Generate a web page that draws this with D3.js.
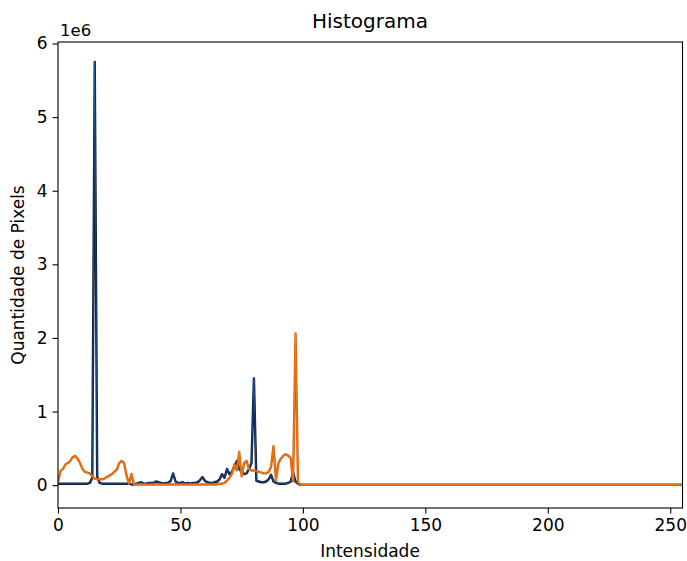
<!DOCTYPE html>
<html>
<head>
<meta charset="utf-8">
<script src="https://cdn.jsdelivr.net/npm/d3@7"></script>
<style>
  html, body { margin: 0; padding: 0; background: #fff; }
  svg { display: block; font-family: "DejaVu Sans", sans-serif; }
</style>
</head>
<body>
<svg id="chart" width="687" height="561"></svg>
<script>
// Intensities 0..100 read one by one, then the flat tail end at 255
const intensities = d3.range(0, 101).concat([255]);

// Series values in millions of pixels
const seriesNavy = [
  0.02, 0.02, 0.02, 0.02, 0.02, 0.02, 0.02, 0.02, 0.02, 0.02,
  0.02, 0.02, 0.02, 0.03, 0.10, 5.75, 0.12, 0.03, 0.02, 0.02,
  0.02, 0.02, 0.02, 0.02, 0.02, 0.02, 0.02, 0.02, 0.02, 0.02,
  0.01, 0.01, 0.02, 0.03, 0.04, 0.02, 0.02, 0.03, 0.03, 0.03,
  0.05, 0.04, 0.03, 0.02, 0.03, 0.03, 0.06, 0.16, 0.05, 0.03,
  0.03, 0.04, 0.02, 0.03, 0.02, 0.03, 0.03, 0.04, 0.07, 0.11,
  0.06, 0.04, 0.03, 0.03, 0.04, 0.05, 0.08, 0.15, 0.10, 0.22,
  0.15, 0.18, 0.25, 0.33, 0.22, 0.18, 0.15, 0.16, 0.22, 0.30,
  1.45, 0.06, 0.05, 0.04, 0.04, 0.05, 0.08, 0.14, 0.05, 0.03,
  0.02, 0.02, 0.02, 0.02, 0.03, 0.05, 0.17, 0.05, 0.02, 0.005,
  0.004, 0.004
];

const seriesOrange = [
  0.04, 0.19, 0.22, 0.28, 0.30, 0.33, 0.38, 0.40, 0.36, 0.30,
  0.22, 0.18, 0.17, 0.16, 0.12, 0.09, 0.08, 0.08, 0.08, 0.09,
  0.11, 0.13, 0.15, 0.18, 0.21, 0.30, 0.33, 0.30, 0.13, 0.02,
  0.15, 0.01, 0.01, 0.01, 0.01, 0.01, 0.01, 0.01, 0.01, 0.01,
  0.01, 0.01, 0.01, 0.01, 0.01, 0.01, 0.01, 0.01, 0.01, 0.01,
  0.01, 0.01, 0.01, 0.01, 0.01, 0.01, 0.01, 0.01, 0.01, 0.01,
  0.01, 0.01, 0.01, 0.01, 0.01, 0.01, 0.02, 0.02, 0.03, 0.06,
  0.10, 0.15, 0.28, 0.20, 0.45, 0.12, 0.30, 0.33, 0.22, 0.20,
  0.20, 0.19, 0.18, 0.17, 0.16, 0.16, 0.18, 0.25, 0.53, 0.06,
  0.30, 0.36, 0.40, 0.42, 0.40, 0.37, 0.05, 2.06, 0.04, 0.005,
  0.005, 0.005
];

const xTicks = [0, 50, 100, 150, 200, 250];
const yTicks = [0, 1, 2, 3, 4, 5, 6];
const title = "Histograma";
const xLabel = "Intensidade";
const yLabel = "Quantidade de Pixels";
const yExponent = "1e6";

const svg = d3.select("#chart");
const mLeft = 58, mRight = 682.5, mTop = 42, mBottom = 508;

const x = d3.scaleLinear().domain([0, 255]).range([mLeft, mRight]);
const y = d3.scaleLinear().domain([-0.31, 6.02]).range([mBottom, mTop]);

const line = d3.line()
  .x((d, i) => x(intensities[i]))
  .y(d => y(d));

svg.append("clipPath").attr("id", "clip")
  .append("rect").attr("x", mLeft).attr("y", mTop)
  .attr("width", mRight - mLeft).attr("height", mBottom - mTop);
const plot = svg.append("g").attr("clip-path", "url(#clip)");

function drawSeries(values, outer, inner) {
  plot.append("path").datum(values)
    .attr("d", line).attr("fill", "none")
    .attr("stroke", outer).attr("stroke-width", 2.4)
    .attr("stroke-linejoin", "round");
  plot.append("path").datum(values)
    .attr("d", line).attr("fill", "none")
    .attr("stroke", inner).attr("stroke-width", 0.8)
    .attr("stroke-opacity", 0.6)
    .attr("stroke-linejoin", "round");
}
drawSeries(seriesNavy, "#0a1a36", "#2f80d8");
drawSeries(seriesOrange, "#dc5e0a", "#f59a2a");

// Axes
const xAxis = d3.axisBottom(x).tickValues(xTicks).tickSize(5.5).tickPadding(5)
  .tickFormat(d3.format("d"));
const yAxis = d3.axisLeft(y).tickValues(yTicks).tickSize(5.5).tickPadding(5)
  .tickFormat(d3.format("d"));

const gx = svg.append("g").attr("transform", `translate(0,${mBottom})`).call(xAxis);
const gy = svg.append("g").attr("transform", `translate(${mLeft},0)`).call(yAxis);
[gx, gy].forEach(a => {
  a.select(".domain").remove();
  a.selectAll(".tick line").attr("stroke", "#000").attr("stroke-width", 1.1);
  a.selectAll(".tick text").attr("fill", "#000").attr("font-size", 17)
    .attr("font-family", "DejaVu Sans, sans-serif");
});

// Frame
svg.append("rect").attr("x", mLeft).attr("y", mTop)
  .attr("width", mRight - mLeft).attr("height", mBottom - mTop)
  .attr("fill", "none").attr("stroke", "#000").attr("stroke-width", 1.1);

// Texts
svg.append("text").attr("x", 370).attr("y", 28).attr("text-anchor", "middle")
  .attr("font-size", 20).attr("fill", "#000").text(title);
svg.append("text").attr("x", 370).attr("y", 557).attr("text-anchor", "middle")
  .attr("font-size", 17).attr("fill", "#000").text(xLabel);
svg.append("text").attr("transform", "translate(24,275) rotate(-90)")
  .attr("text-anchor", "middle").attr("font-size", 17).attr("fill", "#000").text(yLabel);
svg.append("text").attr("x", 60).attr("y", 36)
  .attr("font-size", 16.5).attr("fill", "#000").text(yExponent);
</script>
</body>
</html>
